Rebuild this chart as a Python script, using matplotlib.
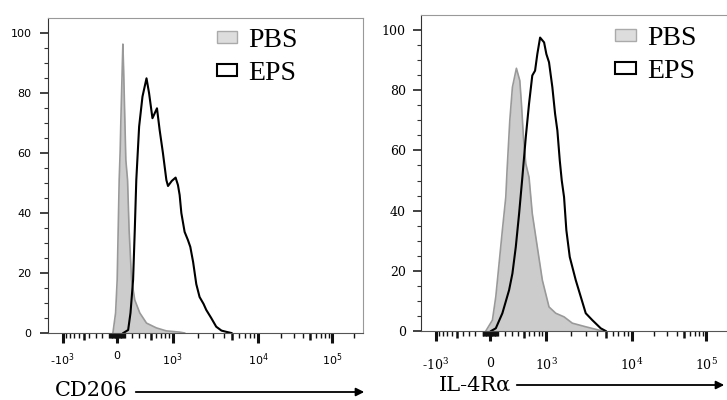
import numpy as np
import matplotlib
matplotlib.use('Agg')
import matplotlib.pyplot as plt
from matplotlib.patches import Patch, FancyArrowPatch

# CD206 histogram (fluorescence, % of max)
cd206_pbs_x = [-53, -17, 4, 30, 43, 52, 69, 78, 88, 104, 117, 140, 161, 195, 240, 314, 422, 605, 830, 1222, 1405]
cd206_pbs_y = [0, 6.7, 17.7, 51, 61, 71, 87.7, 96.3, 87.7, 71, 57.7, 51, 34.3, 17.7, 11, 6.7, 3.3, 1.7, 0.7, 0.3, 0]
cd206_eps_x = [84, 148, 180, 216, 240, 262, 304, 356, 422, 466, 528, 617, 673, 747, 830, 872, 975, 1089, 1165,
               1222, 1282, 1405, 1539, 1644, 1774, 1934, 2114, 2352, 2528, 2886, 3296, 3789, 4288, 4927]
cd206_eps_y = [0, 1, 6.7, 17.7, 34.3, 51, 68.8, 78.8, 84.9, 80, 71.6, 74.9, 67.7, 60, 51, 49, 50.7, 51.8, 49.3,
               46, 40, 33.7, 31, 28.7, 23.7, 16.3, 12, 9.7, 7.7, 5, 2.1, 0.8, 0.4, 0]

# IL-4Ra histogram
il4_pbs_x = [-57, 30, 74, 117, 161, 208, 226, 265, 304, 366, 422, 450, 485, 528, 591, 658, 771, 897, 1089,
             1318, 1657, 2074, 2964, 4591]
il4_pbs_y = [0, 3.6, 11.4, 22.4, 33.5, 44.5, 53.4, 69.9, 81, 87.3, 83.2, 75.5, 64.4, 55.6, 51.1, 39, 27.9,
             16.9, 8, 5.9, 4.7, 2.6, 1.4, 0]
il4_eps_x = [13, 74, 161, 255, 304, 356, 410, 466, 528, 591, 658, 719, 771, 839, 944, 1009, 1089, 1198, 1293,
             1379, 1473, 1556, 1657, 1764, 1934, 2272, 2596, 2964, 3530, 4401, 5020]
il4_eps_y = [0, 0.9, 5.9, 13.6, 19.1, 27.9, 39, 51.1, 64.4, 75.5, 84.9, 86.5, 92, 97.5, 95.9, 92, 89.3, 81,
             72.2, 66.6, 56.7, 50, 44.5, 33.5, 24.6, 16.9, 11.4, 5.9, 3.6, 0.9, 0]

groups = ['PBS', 'EPS']
x_major = [-1000, 0, 1000, 1e4, 1e5]
x_medium = [-500, 500, 5000, 50000]
x_minor = ([-900, -800, -700, -600, -400, -300, -200, -100] + list(range(-90, 0, 10)) + list(range(10, 100, 10))
           + [100, 200, 300, 400, 600, 700, 800, 900]
           + [2000, 3000, 4000, 6000, 7000, 8000, 9000]
           + [20000, 30000, 40000, 60000, 70000, 80000, 90000, 200000])
x_labels = [r'-$\mathregular{10^3}$', '0', r'$\mathregular{10^3}$', r'$\mathregular{10^4}$', r'$\mathregular{10^5}$']

# biexponential-like display scale (arcsinh, spacing of decades as on the axis)
U_ANCH = np.arcsinh(np.array(x_major) / 500.0)
P_ANCH = np.array([-54.3, 0.0, 56.0, 142.0, 216.0])


def _pw(v, xp, fp):
    v = np.asarray(v, dtype=float)
    s0 = (fp[1] - fp[0]) / (xp[1] - xp[0])
    s1 = (fp[-1] - fp[-2]) / (xp[-1] - xp[-2])
    return np.where(v < xp[0], fp[0] + (v - xp[0]) * s0,
                    np.where(v > xp[-1], fp[-1] + (v - xp[-1]) * s1, np.interp(v, xp, fp)))


def fwd(x):
    return _pw(np.arcsinh(np.asarray(x, dtype=float) / 500.0), U_ANCH, P_ANCH)


def inv(p):
    return 500.0 * np.sinh(_pw(p, P_ANCH, U_ANCH))


fig = plt.figure(figsize=(7.27, 4.0), dpi=100)
ax1 = fig.add_axes([48 / 727, 1 - 333 / 400, 315 / 727, 315 / 400])
ax2 = fig.add_axes([421 / 727, 1 - 331 / 400, 316 / 727, 316 / 400])


def draw(ax, pbs_x, pbs_y, eps_x, eps_y, tickfont, ticksize, ypad, xpad, leg_xy):
    ax.set_xscale('function', functions=(fwd, inv))
    ax.fill_between(pbs_x, pbs_y, color='#cccccc', lw=0)
    ax.plot(pbs_x, pbs_y, color='#999999', lw=1.2, solid_joinstyle='round')
    ax.plot(eps_x, eps_y, color='black', lw=1.5, solid_joinstyle='round')
    ax.set_xlim(-1530, 262144)
    ax.set_ylim(0, 105)
    ax.set_xticks(x_major)
    ax.set_xticklabels(x_labels)
    ax.set_xticks(x_minor, minor=True)
    ax.set_yticks([0, 20, 40, 60, 80, 100])
    ax.set_yticks(np.arange(0, 105, 5), minor=True)
    ax.tick_params(axis='x', which='major', length=7, width=2.2, color='#111111', pad=xpad,
                   labelsize=ticksize, labelfontfamily=tickfont)
    ax.tick_params(axis='x', which='minor', length=3.5, width=1.0, color='#111111')
    ax.tick_params(axis='y', which='major', length=6, width=1.3, color='#333333', pad=ypad,
                   labelsize=ticksize, labelfontfamily=tickfont)
    ax.tick_params(axis='y', which='minor', length=3, width=0.8, color='#333333')
    ax.plot(x_medium, [0] * len(x_medium), linestyle='none', marker=3, markersize=5, mew=1.8,
            color='#111111', transform=ax.get_xaxis_transform(), clip_on=False)
    for s in ['top', 'right']:
        ax.spines[s].set_color('#999999')
        ax.spines[s].set_linewidth(0.8)
    ax.spines['left'].set_color('#333333')
    ax.spines['bottom'].set_color('#555555')
    handles = [Patch(facecolor='#dddddd', edgecolor='#aaaaaa', lw=1.0, label=groups[0]),
               Patch(facecolor='white', edgecolor='black', lw=1.5, label=groups[1])]
    ax.legend(handles=handles, loc='upper left', bbox_to_anchor=leg_xy, frameon=False,
              prop={'family': 'Liberation Serif', 'size': 20}, handlelength=0.75, handleheight=0.3,
              handletextpad=0.4, labelspacing=0.3, borderpad=0, borderaxespad=0)


draw(ax1, cd206_pbs_x, cd206_pbs_y, cd206_eps_x, cd206_eps_y, 'DejaVu Sans', 8, 6, 6, (0.535, 0.969))
draw(ax2, il4_pbs_x, il4_pbs_y, il4_eps_x, il4_eps_y, 'DejaVu Serif', 9, 5, 12, (0.614, 0.966))

# axis labels with arrows
fig.text(55 / 727, 1 - 391 / 400, 'CD206', family='DejaVu Serif', size=15, ha='left', va='center')
fig.text(439 / 727, 1 - 385 / 400, 'IL-4R\u03b1', family='DejaVu Serif', size=15, ha='left', va='center')
fig.patches.append(FancyArrowPatch((133 / 727, 1 - 392 / 400), (367 / 727, 1 - 392 / 400),
                                   transform=fig.transFigure, arrowstyle='-|>',
                                   mutation_scale=12, lw=1.3, color='black'))
fig.patches.append(FancyArrowPatch((514 / 727, 1 - 385 / 400), (727 / 727, 1 - 385 / 400),
                                   transform=fig.transFigure, arrowstyle='-|>',
                                   mutation_scale=12, lw=1.3, color='black'))

fig.savefig('out.png', dpi=100)
